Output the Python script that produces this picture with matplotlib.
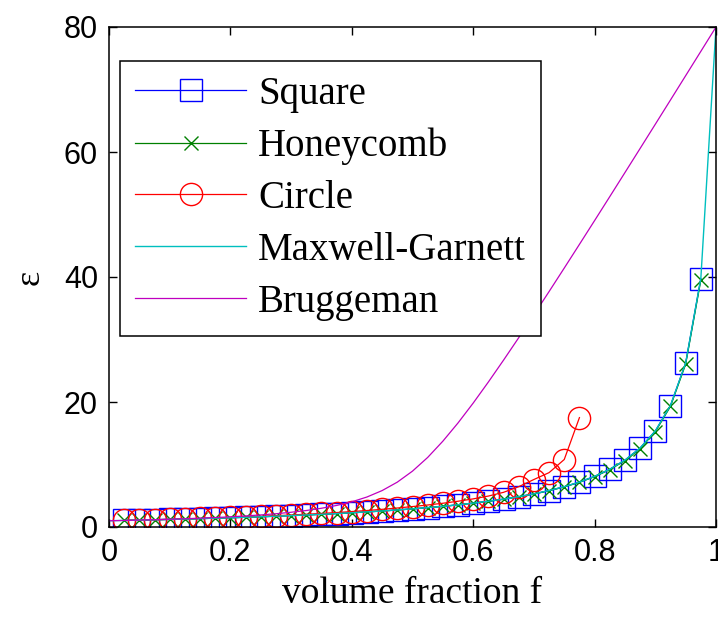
import matplotlib
matplotlib.use("Agg")
from matplotlib import pyplot as plt

# volume fraction grid of the simulated points
f_pts = [0.025, 0.05, 0.075, 0.1, 0.125, 0.15, 0.175, 0.2, 0.225, 0.25,
         0.275, 0.3, 0.325, 0.35, 0.375, 0.4, 0.425, 0.45, 0.475, 0.5,
         0.525, 0.55, 0.575, 0.6, 0.625, 0.65, 0.675, 0.7, 0.725, 0.75,
         0.775, 0.8, 0.825, 0.85, 0.875, 0.9, 0.925, 0.95, 0.975]

square = [1.05, 1.10, 1.16, 1.22, 1.28, 1.34, 1.41, 1.48, 1.56, 1.64,
          1.73, 1.83, 1.93, 2.04, 2.15, 2.28, 2.42, 2.56, 2.73, 2.90,
          3.10, 3.31, 3.55, 3.82, 4.12, 4.46, 4.85, 5.30, 5.83, 6.45,
          7.19, 8.10, 9.24, 10.70, 12.64, 15.36, 19.44, 26.23, 39.75]

honeycomb = [1.05, 1.10, 1.16, 1.21, 1.27, 1.34, 1.41, 1.48, 1.56, 1.64,
             1.73, 1.82, 1.92, 2.03, 2.15, 2.27, 2.41, 2.56, 2.72, 2.89,
             3.09, 3.30, 3.54, 3.80, 4.10, 4.44, 4.83, 5.27, 5.80, 6.41,
             7.15, 8.05, 9.18, 10.62, 12.55, 15.25, 19.30, 26.05, 39.50]

circle = [1.05, 1.11, 1.17, 1.23, 1.30, 1.37, 1.45, 1.53, 1.62, 1.71,
          1.81, 1.92, 2.04, 2.17, 2.31, 2.47, 2.64, 2.83, 3.04, 3.27,
          3.52, 3.80, 4.12, 4.50, 4.95, 5.55, 6.45, 7.60, 8.70, 10.80,
          17.50]

# effective-medium curves
f_curve = [0.0, 0.025, 0.05, 0.075, 0.1, 0.125, 0.15, 0.175, 0.2, 0.225,
           0.25, 0.275, 0.3, 0.325, 0.35, 0.375, 0.4, 0.425, 0.45, 0.475,
           0.5, 0.525, 0.55, 0.575, 0.6, 0.625, 0.65, 0.675, 0.7, 0.725,
           0.75, 0.775, 0.8, 0.825, 0.85, 0.875, 0.9, 0.925, 0.95, 0.975, 1.0]

maxwell = [1.00, 1.05, 1.10, 1.16, 1.22, 1.28, 1.34, 1.41, 1.48, 1.56,
           1.64, 1.73, 1.83, 1.93, 2.04, 2.15, 2.28, 2.42, 2.56, 2.73,
           2.90, 3.10, 3.31, 3.55, 3.82, 4.12, 4.46, 4.85, 5.30, 5.83,
           6.45, 7.19, 8.10, 9.24, 10.70, 12.64, 15.36, 19.44, 26.23, 39.75,
           80.0]

bruggeman = [1.00, 1.05, 1.11, 1.17, 1.24, 1.32, 1.41, 1.51, 1.63, 1.77,
             1.93, 2.12, 2.36, 2.64, 3.00, 3.45, 4.03, 4.80, 5.83, 7.18,
             8.94, 11.13, 13.73, 16.65, 19.83, 23.20, 26.70, 30.29, 33.96, 37.67,
             41.43, 45.22, 49.03, 52.86, 56.71, 60.57, 64.44, 68.32, 72.21, 76.10,
             80.0]

fig = plt.figure(figsize=(7.18, 6.23), dpi=100)
ax = fig.add_axes([109 / 718, 96 / 623, 607 / 718, 500 / 623])

ax.plot(f_pts, square, color="#0000ff", lw=0.9, marker="s", ms=15.5,
        mfc="none", mec="#0000ff", mew=1.0, label="Square")
ax.plot(f_pts, honeycomb, color="#008000", lw=0.9, marker="x", ms=9.5,
        mec="#008000", mew=1.0, label="Honeycomb")
ax.plot(f_pts[:len(circle)], circle, color="#ff0000", lw=0.9, marker="o", ms=16,
        mfc="none", mec="#ff0000", mew=1.0, label="Circle")
ax.plot(f_curve, maxwell, color="#00bfbf", lw=1.0, label="Maxwell-Garnett")
ax.plot(f_curve, bruggeman, color="#bf00bf", lw=0.9, label="Bruggeman")

ax.set_xlim(0, 1)
ax.set_ylim(0, 80)
ax.set_xticks([0, 0.2, 0.4, 0.6, 0.8, 1])
ax.set_xticklabels(["0", "0.2", "0.4", "0.6", "0.8", "1"])
ax.set_yticks([0, 20, 40, 60, 80])
ax.tick_params(direction="in", top=True, right=True, length=6, width=1,
               labelsize=22, pad=8)
for lab in ax.get_xticklabels() + ax.get_yticklabels():
    lab.set_fontfamily("Liberation Sans")
for sp in ax.spines.values():
    sp.set_linewidth(1.1)

ax.set_xlabel("volume fraction f", fontfamily="Liberation Serif", fontsize=27,
              labelpad=6)
ax.set_ylabel("\u03b5", fontfamily="Liberation Serif", fontsize=26, labelpad=12)

leg = ax.legend(loc="upper left", bbox_to_anchor=(0.018, 0.933),
                prop={"family": "Liberation Serif", "size": 28},
                fancybox=False, framealpha=1, edgecolor="black",
                handlelength=2.85, handletextpad=0.3, labelspacing=0.38,
                borderpad=0.4, borderaxespad=0)
leg.get_frame().set_linewidth(1.1)

fig.savefig("out.png", dpi=100)
